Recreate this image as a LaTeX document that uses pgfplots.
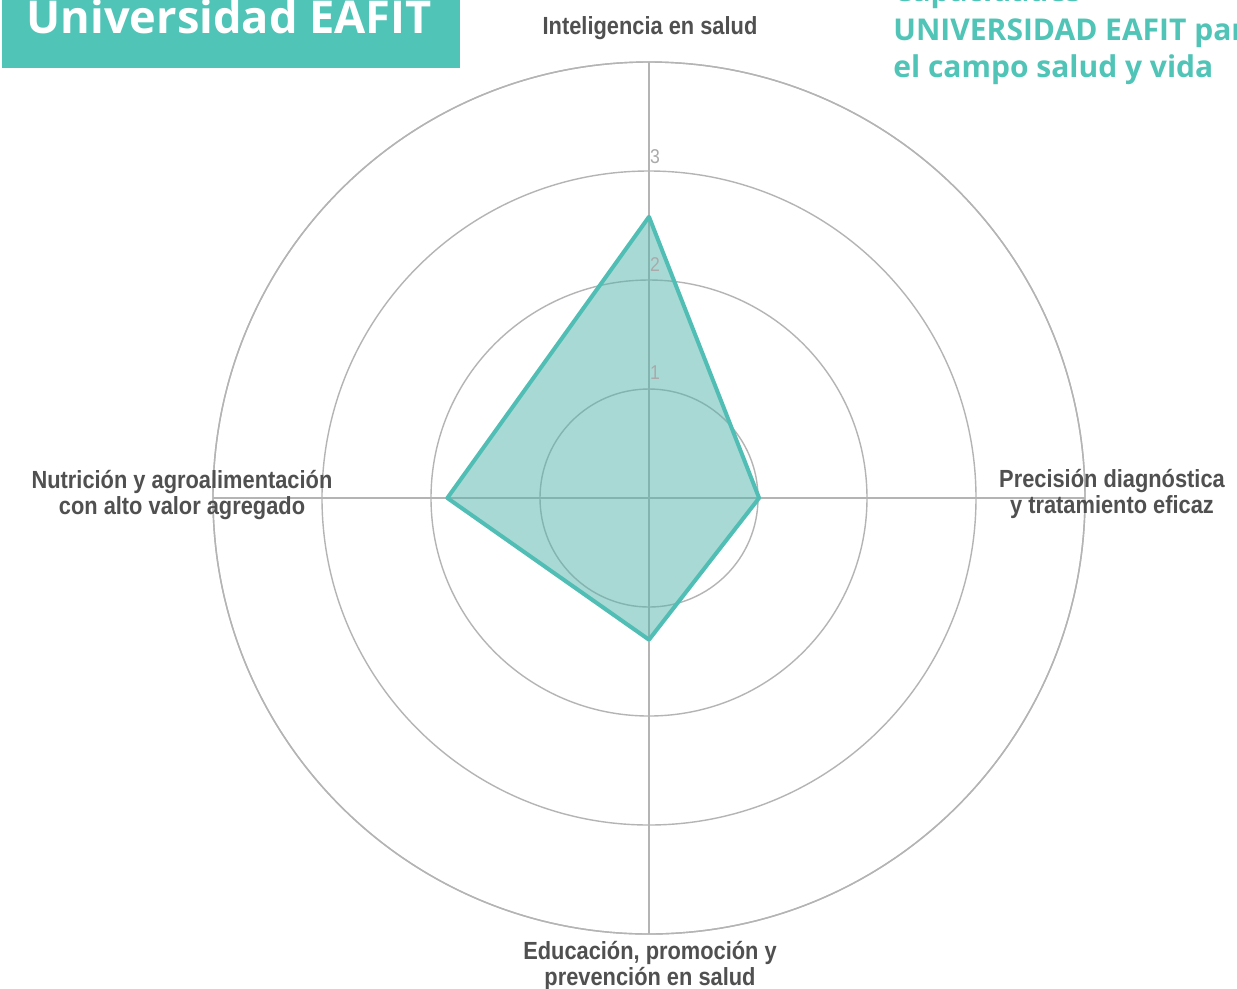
\documentclass[border=0pt]{standalone}
\usepackage{pgfplots}
\pgfplotsset{compat=1.18}
\usepgfplotslibrary{polar}
\usepackage{fontspec}
\setmainfont{Liberation Sans}
\newfontfamily\labelfont[FakeStretch=0.88]{Liberation Sans}
\newfontfamily\titlefont{Open Sans}

\definecolor{eafit}{RGB}{80,196,183}
\definecolor{eafitline}{RGB}{80,190,180}
\definecolor{eafitfill}{RGB}{85,180,172}
\definecolor{gridgray}{RGB}{180,180,180}
\definecolor{numgray}{RGB}{170,170,170}
\definecolor{labelgray}{RGB}{80,80,80}

\begin{document}
\begin{tikzpicture}
% page = 1237 x 989 px, 1px = 0.5bp
\path[use as bounding box] (0,0) rectangle (618.5bp,-494.5bp);
\clip (0,0) rectangle (618.5bp,-494.5bp);
\fill[white] (0,0) rectangle (618.5bp,-494.5bp);

% titles
\fill[eafit] (1bp,0) rectangle (230bp,-34bp);
\node[anchor=base west, inner sep=0, text=white,
      font=\titlefont\bfseries\fontsize{22.6bp}{28bp}\selectfont]
  at (13bp,-16.5bp) {Universidad EAFIT};
\begin{scope}[every node/.style={anchor=base west, inner sep=0, text=eafit,
      font=\titlefont\bfseries\fontsize{15bp}{18bp}\selectfont}]
  \node at (446.5bp,-0.5bp) {Capacidades};
  \node at (446.5bp,-20bp) {UNIVERSIDAD EAFIT para};
  \node at (446.5bp,-38.5bp) {el campo salud y vida};
\end{scope}

\begin{polaraxis}[
    at={(324.5bp,-249bp)}, anchor=center,
    scale only axis, width=436bp, height=436bp,
    ymin=0, ymax=4, ytick={1,2,3,4},
    xtick={0,90,180,270},
    xticklabels={}, yticklabels={},
    major tick length=0pt,
    grid=major,
    major grid style={draw=gridgray, line width=0.7pt},
    axis line style={draw=gridgray, line width=0.7pt},
    clip=false,
]
\addplot[draw=eafitline, line width=2bp, line join=round,
         fill=eafitfill, fill opacity=0.5] coordinates {
    (90,2.58) (0,1.01) (270,1.30) (180,1.85) (90,2.58)
} -- cycle;

\node[text=numgray, font=\labelfont\fontsize{10bp}{12bp}\selectfont, xshift=3bp]
  at (axis cs:90,1.15) {1};
\node[text=numgray, font=\labelfont\fontsize{10bp}{12bp}\selectfont, xshift=3bp]
  at (axis cs:90,2.14) {2};
\node[text=numgray, font=\labelfont\fontsize{10bp}{12bp}\selectfont, xshift=3bp]
  at (axis cs:90,3.13) {3};
\end{polaraxis}

% category labels
\begin{scope}[every node/.style={align=center, inner sep=0, text=labelgray,
      font=\labelfont\bfseries\fontsize{12.4bp}{12.8bp}\selectfont}]
  \node at (325bp,-14bp) {Inteligencia en salud};
  \node at (556bp,-247bp) {Precisión diagnóstica\\y tratamiento eficaz};
  \node at (325bp,-483bp) {Educación, promoción y\\prevención en salud};
  \node at (91bp,-247.5bp) {Nutrición y agroalimentación\\con alto valor agregado};
\end{scope}
\end{tikzpicture}
\end{document}
